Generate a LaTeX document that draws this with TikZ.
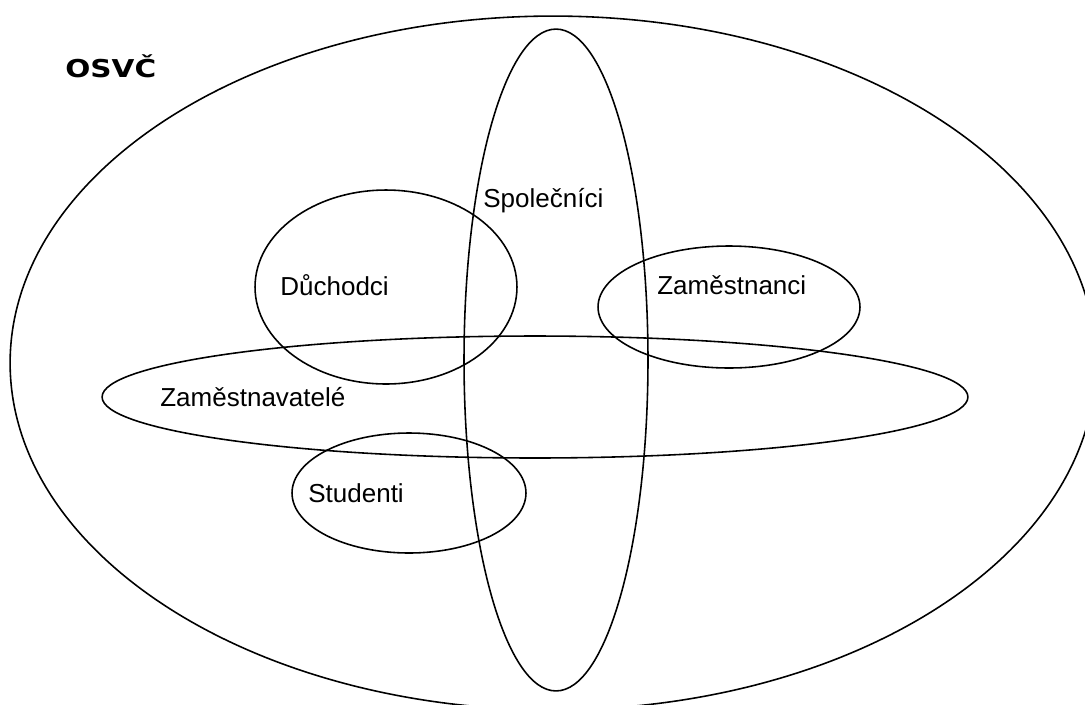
\documentclass[tikz,border=0pt]{standalone}
\usepackage{fontspec}
\usepackage{graphicx}
\setmainfont{Liberation Sans}
\newfontfamily\headfont{DejaVu Sans}
\usetikzlibrary{shapes.geometric}
\tikzset{
  ring/.style={ellipse, draw=black, line width=.9pt, inner sep=0pt, outer sep=0pt},
  lbl/.style={anchor=base west, inner sep=0pt, font=\fontsize{14.8}{17}\selectfont},
  head/.style={lbl, font=\headfont\bfseries\fontsize{14}{16}\selectfont}
}
\begin{document}
\begin{tikzpicture}[x=0.02cm, y=-0.02cm]
  \fill[white] (0,0) rectangle (1085,704);
  \useasboundingbox (0,0) rectangle (1085,704);

  % sets
  \node[ring, minimum width=21.72cm, minimum height=13.88cm] (osvc) at (553,363) {};
  \node[ring, minimum width=3.68cm, minimum height=13.24cm] (spol) at (556,360) {};
  \node[ring, minimum width=5.24cm, minimum height=3.88cm] (duch) at (386,287) {};
  \node[ring, minimum width=5.24cm, minimum height=2.44cm] (zamc) at (729,307) {};
  \node[ring, minimum width=17.32cm, minimum height=2.44cm] (zamv) at (535,397) {};
  \node[ring, minimum width=4.68cm, minimum height=2.4cm] (stud) at (409,493) {};

  % labels
  \node[head] (osvc-l) at (65,77) {\scalebox{1.2}[1]{OSVČ}};
  \node[lbl] (spol-l) at (483,207) {Společníci};
  \node[lbl] (duch-l) at (280,295) {Důchodci};
  \node[lbl] (zamc-l) at (657,294) {Zaměstnanci};
  \node[lbl] (zamv-l) at (160,406) {Zaměstnavatelé};
  \node[lbl] (stud-l) at (308,502) {Studenti};
\end{tikzpicture}
\end{document}
